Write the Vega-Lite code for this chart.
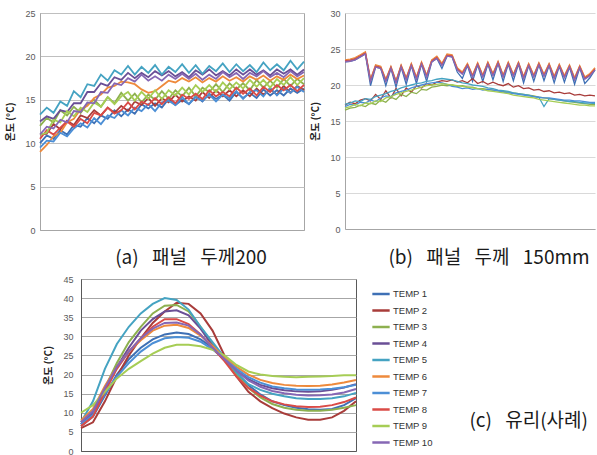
{
"$schema":"https://vega.github.io/schema/vega-lite/v6.json",
"background":"white",
"padding":{"left":5,"top":8,"right":0,"bottom":0},
"config":{"view":{"stroke":null},
"axis":{"ticks":false,"labelFont":"Liberation Sans","labelFontSize":9,"labelColor":"#595959","labelPadding":5,"titleFont":"Noto Sans CJK KR","titleFontSize":10,"titleFontWeight":"bold","titleColor":"#222222","titlePadding":9,"domainColor":"#A6A6A6","gridColor":"#C8C8C8"},
"title":{"font":"Noto Sans CJK KR","fontSize":19,"fontWeight":"normal","color":"#1a1a1a"}},
"datasets":{
"a":[
{"s":1,"x":0,"y":10.0},{"s":1,"x":1,"y":10.9},{"s":1,"x":2,"y":10.5},{"s":1,"x":3,"y":11.5},{"s":1,"x":4,"y":11.0},{"s":1,"x":5,"y":12.1},{"s":1,"x":6,"y":11.9},{"s":1,"x":7,"y":12.9},{"s":1,"x":8,"y":12.3},{"s":1,"x":9,"y":13.2},{"s":1,"x":10,"y":12.8},{"s":1,"x":11,"y":13.8},{"s":1,"x":12,"y":13.1},{"s":1,"x":13,"y":13.9},{"s":1,"x":14,"y":13.4},{"s":1,"x":15,"y":14.5},{"s":1,"x":16,"y":14.0},{"s":1,"x":17,"y":14.6},{"s":1,"x":18,"y":14.1},{"s":1,"x":19,"y":15.1},{"s":1,"x":20,"y":14.4},{"s":1,"x":21,"y":15.0},{"s":1,"x":22,"y":14.5},{"s":1,"x":23,"y":15.4},{"s":1,"x":24,"y":14.8},{"s":1,"x":25,"y":15.7},{"s":1,"x":26,"y":15.1},{"s":1,"x":27,"y":15.6},{"s":1,"x":28,"y":14.9},{"s":1,"x":29,"y":15.9},{"s":1,"x":30,"y":15.2},{"s":1,"x":31,"y":15.8},{"s":1,"x":32,"y":15.2},{"s":1,"x":33,"y":16.2},{"s":1,"x":34,"y":15.5},{"s":1,"x":35,"y":16.1},{"s":1,"x":36,"y":15.5},{"s":1,"x":37,"y":16.3},{"s":1,"x":38,"y":15.8},{"s":1,"x":39,"y":16.3},
{"s":2,"x":0,"y":11.0},{"s":2,"x":1,"y":11.1},{"s":2,"x":2,"y":12.2},{"s":2,"x":3,"y":11.6},{"s":2,"x":4,"y":12.6},{"s":2,"x":5,"y":12.1},{"s":2,"x":6,"y":13.2},{"s":2,"x":7,"y":12.9},{"s":2,"x":8,"y":13.8},{"s":2,"x":9,"y":13.2},{"s":2,"x":10,"y":14.1},{"s":2,"x":11,"y":13.5},{"s":2,"x":12,"y":14.3},{"s":2,"x":13,"y":13.7},{"s":2,"x":14,"y":14.8},{"s":2,"x":15,"y":14.4},{"s":2,"x":16,"y":15.2},{"s":2,"x":17,"y":14.3},{"s":2,"x":18,"y":15.2},{"s":2,"x":19,"y":14.7},{"s":2,"x":20,"y":15.6},{"s":2,"x":21,"y":14.8},{"s":2,"x":22,"y":15.4},{"s":2,"x":23,"y":14.9},{"s":2,"x":24,"y":15.9},{"s":2,"x":25,"y":15.2},{"s":2,"x":26,"y":16.1},{"s":2,"x":27,"y":15.4},{"s":2,"x":28,"y":16.1},{"s":2,"x":29,"y":15.4},{"s":2,"x":30,"y":16.1},{"s":2,"x":31,"y":15.4},{"s":2,"x":32,"y":16.3},{"s":2,"x":33,"y":15.6},{"s":2,"x":34,"y":16.2},{"s":2,"x":35,"y":15.6},{"s":2,"x":36,"y":16.6},{"s":2,"x":37,"y":15.8},{"s":2,"x":38,"y":16.6},{"s":2,"x":39,"y":16.1},
{"s":3,"x":0,"y":12.0},{"s":3,"x":1,"y":12.9},{"s":3,"x":2,"y":12.4},{"s":3,"x":3,"y":13.8},{"s":3,"x":4,"y":13.2},{"s":3,"x":5,"y":14.2},{"s":3,"x":6,"y":13.5},{"s":3,"x":7,"y":14.5},{"s":3,"x":8,"y":15.0},{"s":3,"x":9,"y":14.2},{"s":3,"x":10,"y":15.3},{"s":3,"x":11,"y":14.6},{"s":3,"x":12,"y":15.8},{"s":3,"x":13,"y":14.9},{"s":3,"x":14,"y":15.7},{"s":3,"x":15,"y":14.7},{"s":3,"x":16,"y":15.6},{"s":3,"x":17,"y":15.0},{"s":3,"x":18,"y":16.0},{"s":3,"x":19,"y":15.1},{"s":3,"x":20,"y":16.1},{"s":3,"x":21,"y":15.4},{"s":3,"x":22,"y":16.4},{"s":3,"x":23,"y":15.4},{"s":3,"x":24,"y":16.4},{"s":3,"x":25,"y":15.9},{"s":3,"x":26,"y":16.8},{"s":3,"x":27,"y":15.9},{"s":3,"x":28,"y":16.9},{"s":3,"x":29,"y":16.2},{"s":3,"x":30,"y":16.9},{"s":3,"x":31,"y":16.1},{"s":3,"x":32,"y":17.3},{"s":3,"x":33,"y":16.4},{"s":3,"x":34,"y":17.2},{"s":3,"x":35,"y":16.4},{"s":3,"x":36,"y":17.4},{"s":3,"x":37,"y":16.6},{"s":3,"x":38,"y":17.4},{"s":3,"x":39,"y":16.8},
{"s":4,"x":0,"y":12.5},{"s":4,"x":1,"y":13.1},{"s":4,"x":2,"y":12.8},{"s":4,"x":3,"y":13.8},{"s":4,"x":4,"y":13.6},{"s":4,"x":5,"y":14.6},{"s":4,"x":6,"y":14.6},{"s":4,"x":7,"y":15.9},{"s":4,"x":8,"y":15.9},{"s":4,"x":9,"y":16.9},{"s":4,"x":10,"y":16.6},{"s":4,"x":11,"y":17.6},{"s":4,"x":12,"y":17.3},{"s":4,"x":13,"y":18.1},{"s":4,"x":14,"y":17.5},{"s":4,"x":15,"y":18.1},{"s":4,"x":16,"y":17.6},{"s":4,"x":17,"y":18.3},{"s":4,"x":18,"y":17.8},{"s":4,"x":19,"y":18.3},{"s":4,"x":20,"y":17.7},{"s":4,"x":21,"y":18.2},{"s":4,"x":22,"y":17.6},{"s":4,"x":23,"y":18.4},{"s":4,"x":24,"y":17.9},{"s":4,"x":25,"y":18.5},{"s":4,"x":26,"y":17.8},{"s":4,"x":27,"y":18.3},{"s":4,"x":28,"y":17.8},{"s":4,"x":29,"y":18.5},{"s":4,"x":30,"y":17.9},{"s":4,"x":31,"y":18.5},{"s":4,"x":32,"y":17.9},{"s":4,"x":33,"y":18.4},{"s":4,"x":34,"y":17.8},{"s":4,"x":35,"y":18.5},{"s":4,"x":36,"y":18.0},{"s":4,"x":37,"y":18.5},{"s":4,"x":38,"y":17.9},{"s":4,"x":39,"y":18.5},
{"s":5,"x":0,"y":13.3},{"s":5,"x":1,"y":14.1},{"s":5,"x":2,"y":13.5},{"s":5,"x":3,"y":14.8},{"s":5,"x":4,"y":14.3},{"s":5,"x":5,"y":16.0},{"s":5,"x":6,"y":15.3},{"s":5,"x":7,"y":16.8},{"s":5,"x":8,"y":16.6},{"s":5,"x":9,"y":17.9},{"s":5,"x":10,"y":17.2},{"s":5,"x":11,"y":18.4},{"s":5,"x":12,"y":17.9},{"s":5,"x":13,"y":18.9},{"s":5,"x":14,"y":17.9},{"s":5,"x":15,"y":18.8},{"s":5,"x":16,"y":18.1},{"s":5,"x":17,"y":19.0},{"s":5,"x":18,"y":17.9},{"s":5,"x":19,"y":18.8},{"s":5,"x":20,"y":18.2},{"s":5,"x":21,"y":19.1},{"s":5,"x":22,"y":18.1},{"s":5,"x":23,"y":19.0},{"s":5,"x":24,"y":18.0},{"s":5,"x":25,"y":18.9},{"s":5,"x":26,"y":18.3},{"s":5,"x":27,"y":19.2},{"s":5,"x":28,"y":18.2},{"s":5,"x":29,"y":19.1},{"s":5,"x":30,"y":18.3},{"s":5,"x":31,"y":19.0},{"s":5,"x":32,"y":18.2},{"s":5,"x":33,"y":19.3},{"s":5,"x":34,"y":18.4},{"s":5,"x":35,"y":19.1},{"s":5,"x":36,"y":18.4},{"s":5,"x":37,"y":19.5},{"s":5,"x":38,"y":18.5},{"s":5,"x":39,"y":19.4},
{"s":6,"x":0,"y":9.0},{"s":6,"x":1,"y":9.8},{"s":6,"x":2,"y":10.8},{"s":6,"x":3,"y":11.2},{"s":6,"x":4,"y":12.4},{"s":6,"x":5,"y":12.8},{"s":6,"x":6,"y":13.9},{"s":6,"x":7,"y":14.3},{"s":6,"x":8,"y":15.2},{"s":6,"x":9,"y":15.6},{"s":6,"x":10,"y":16.4},{"s":6,"x":11,"y":16.6},{"s":6,"x":12,"y":17.1},{"s":6,"x":13,"y":17.0},{"s":6,"x":14,"y":16.8},{"s":6,"x":15,"y":16.2},{"s":6,"x":16,"y":15.8},{"s":6,"x":17,"y":16.0},{"s":6,"x":18,"y":16.6},{"s":6,"x":19,"y":17.2},{"s":6,"x":20,"y":17.0},{"s":6,"x":21,"y":17.5},{"s":6,"x":22,"y":17.1},{"s":6,"x":23,"y":17.6},{"s":6,"x":24,"y":17.0},{"s":6,"x":25,"y":17.5},{"s":6,"x":26,"y":17.1},{"s":6,"x":27,"y":17.7},{"s":6,"x":28,"y":17.2},{"s":6,"x":29,"y":17.6},{"s":6,"x":30,"y":17.1},{"s":6,"x":31,"y":17.7},{"s":6,"x":32,"y":17.3},{"s":6,"x":33,"y":17.8},{"s":6,"x":34,"y":17.2},{"s":6,"x":35,"y":17.7},{"s":6,"x":36,"y":17.3},{"s":6,"x":37,"y":17.9},{"s":6,"x":38,"y":17.4},{"s":6,"x":39,"y":17.8},
{"s":7,"x":0,"y":9.5},{"s":7,"x":1,"y":10.3},{"s":7,"x":2,"y":10.2},{"s":7,"x":3,"y":11.2},{"s":7,"x":4,"y":10.8},{"s":7,"x":5,"y":11.7},{"s":7,"x":6,"y":12.3},{"s":7,"x":7,"y":11.8},{"s":7,"x":8,"y":12.9},{"s":7,"x":9,"y":12.2},{"s":7,"x":10,"y":13.2},{"s":7,"x":11,"y":12.9},{"s":7,"x":12,"y":13.8},{"s":7,"x":13,"y":13.2},{"s":7,"x":14,"y":14.1},{"s":7,"x":15,"y":13.7},{"s":7,"x":16,"y":14.5},{"s":7,"x":17,"y":13.7},{"s":7,"x":18,"y":14.7},{"s":7,"x":19,"y":14.9},{"s":7,"x":20,"y":14.4},{"s":7,"x":21,"y":15.3},{"s":7,"x":22,"y":14.5},{"s":7,"x":23,"y":15.3},{"s":7,"x":24,"y":14.9},{"s":7,"x":25,"y":15.6},{"s":7,"x":26,"y":14.8},{"s":7,"x":27,"y":15.6},{"s":7,"x":28,"y":15.2},{"s":7,"x":29,"y":16.0},{"s":7,"x":30,"y":15.1},{"s":7,"x":31,"y":15.9},{"s":7,"x":32,"y":16.1},{"s":7,"x":33,"y":15.4},{"s":7,"x":34,"y":16.4},{"s":7,"x":35,"y":15.5},{"s":7,"x":36,"y":16.3},{"s":7,"x":37,"y":15.8},{"s":7,"x":38,"y":16.5},{"s":7,"x":39,"y":15.9},
{"s":8,"x":0,"y":10.5},{"s":8,"x":1,"y":11.5},{"s":8,"x":2,"y":11.0},{"s":8,"x":3,"y":11.8},{"s":8,"x":4,"y":12.5},{"s":8,"x":5,"y":11.9},{"s":8,"x":6,"y":12.8},{"s":8,"x":7,"y":12.3},{"s":8,"x":8,"y":13.5},{"s":8,"x":9,"y":13.2},{"s":8,"x":10,"y":14.1},{"s":8,"x":11,"y":13.4},{"s":8,"x":12,"y":13.8},{"s":8,"x":13,"y":14.7},{"s":8,"x":14,"y":13.9},{"s":8,"x":15,"y":14.8},{"s":8,"x":16,"y":14.4},{"s":8,"x":17,"y":15.2},{"s":8,"x":18,"y":14.5},{"s":8,"x":19,"y":15.3},{"s":8,"x":20,"y":14.6},{"s":8,"x":21,"y":15.6},{"s":8,"x":22,"y":15.1},{"s":8,"x":23,"y":15.7},{"s":8,"x":24,"y":15.1},{"s":8,"x":25,"y":16.1},{"s":8,"x":26,"y":15.4},{"s":8,"x":27,"y":15.9},{"s":8,"x":28,"y":15.4},{"s":8,"x":29,"y":16.4},{"s":8,"x":30,"y":15.7},{"s":8,"x":31,"y":16.3},{"s":8,"x":32,"y":15.5},{"s":8,"x":33,"y":16.5},{"s":8,"x":34,"y":15.9},{"s":8,"x":35,"y":16.7},{"s":8,"x":36,"y":16.1},{"s":8,"x":37,"y":16.7},{"s":8,"x":38,"y":16.0},{"s":8,"x":39,"y":16.7},
{"s":9,"x":0,"y":11.0},{"s":9,"x":1,"y":11.2},{"s":9,"x":2,"y":12.7},{"s":9,"x":3,"y":12.4},{"s":9,"x":4,"y":13.7},{"s":9,"x":5,"y":13.1},{"s":9,"x":6,"y":14.1},{"s":9,"x":7,"y":13.6},{"s":9,"x":8,"y":14.7},{"s":9,"x":9,"y":14.2},{"s":9,"x":10,"y":15.3},{"s":9,"x":11,"y":14.5},{"s":9,"x":12,"y":15.4},{"s":9,"x":13,"y":15.9},{"s":9,"x":14,"y":14.9},{"s":9,"x":15,"y":15.9},{"s":9,"x":16,"y":15.1},{"s":9,"x":17,"y":16.1},{"s":9,"x":18,"y":15.1},{"s":9,"x":19,"y":16.1},{"s":9,"x":20,"y":15.5},{"s":9,"x":21,"y":16.4},{"s":9,"x":22,"y":15.6},{"s":9,"x":23,"y":16.7},{"s":9,"x":24,"y":15.9},{"s":9,"x":25,"y":16.7},{"s":9,"x":26,"y":15.9},{"s":9,"x":27,"y":17.0},{"s":9,"x":28,"y":16.2},{"s":9,"x":29,"y":17.0},{"s":9,"x":30,"y":16.3},{"s":9,"x":31,"y":17.3},{"s":9,"x":32,"y":16.5},{"s":9,"x":33,"y":17.3},{"s":9,"x":34,"y":16.4},{"s":9,"x":35,"y":17.4},{"s":9,"x":36,"y":16.7},{"s":9,"x":37,"y":17.6},{"s":9,"x":38,"y":16.7},{"s":9,"x":39,"y":17.5},
{"s":10,"x":0,"y":11.0},{"s":10,"x":1,"y":11.9},{"s":10,"x":2,"y":11.7},{"s":10,"x":3,"y":12.7},{"s":10,"x":4,"y":12.4},{"s":10,"x":5,"y":13.7},{"s":10,"x":6,"y":13.6},{"s":10,"x":7,"y":14.7},{"s":10,"x":8,"y":14.6},{"s":10,"x":9,"y":15.9},{"s":10,"x":10,"y":15.8},{"s":10,"x":11,"y":16.9},{"s":10,"x":12,"y":16.7},{"s":10,"x":13,"y":17.5},{"s":10,"x":14,"y":17.1},{"s":10,"x":15,"y":17.9},{"s":10,"x":16,"y":17.2},{"s":10,"x":17,"y":17.7},{"s":10,"x":18,"y":17.2},{"s":10,"x":19,"y":17.9},{"s":10,"x":20,"y":17.4},{"s":10,"x":21,"y":18.0},{"s":10,"x":22,"y":17.4},{"s":10,"x":23,"y":18.0},{"s":10,"x":24,"y":17.3},{"s":10,"x":25,"y":17.9},{"s":10,"x":26,"y":17.4},{"s":10,"x":27,"y":18.2},{"s":10,"x":28,"y":17.6},{"s":10,"x":29,"y":18.1},{"s":10,"x":30,"y":17.4},{"s":10,"x":31,"y":18.1},{"s":10,"x":32,"y":17.7},{"s":10,"x":33,"y":18.3},{"s":10,"x":34,"y":17.6},{"s":10,"x":35,"y":18.1},{"s":10,"x":36,"y":17.6},{"s":10,"x":37,"y":18.3},{"s":10,"x":38,"y":17.7},{"s":10,"x":39,"y":18.2}
],
"b":[
{"s":1,"x":0,"y":23.2},{"s":1,"x":1,"y":23.3},{"s":1,"x":2,"y":23.5},{"s":1,"x":3,"y":23.9},{"s":1,"x":4,"y":24.3},{"s":1,"x":5,"y":19.9},{"s":1,"x":6,"y":22.5},{"s":1,"x":7,"y":22.3},{"s":1,"x":8,"y":19.9},{"s":1,"x":9,"y":22.3},{"s":1,"x":10,"y":19.7},{"s":1,"x":11,"y":22.5},{"s":1,"x":12,"y":20.1},{"s":1,"x":13,"y":22.7},{"s":1,"x":14,"y":20.2},{"s":1,"x":15,"y":22.9},{"s":1,"x":16,"y":20.5},{"s":1,"x":17,"y":23.2},{"s":1,"x":18,"y":23.7},{"s":1,"x":19,"y":22.3},{"s":1,"x":20,"y":24.0},{"s":1,"x":21,"y":23.9},{"s":1,"x":22,"y":21.8},{"s":1,"x":23,"y":20.9},{"s":1,"x":24,"y":22.7},{"s":1,"x":25,"y":20.5},{"s":1,"x":26,"y":22.8},{"s":1,"x":27,"y":20.5},{"s":1,"x":28,"y":22.9},{"s":1,"x":29,"y":20.7},{"s":1,"x":30,"y":23.0},{"s":1,"x":31,"y":20.5},{"s":1,"x":32,"y":22.9},{"s":1,"x":33,"y":20.6},{"s":1,"x":34,"y":22.9},{"s":1,"x":35,"y":20.3},{"s":1,"x":36,"y":22.7},{"s":1,"x":37,"y":20.5},{"s":1,"x":38,"y":22.8},{"s":1,"x":39,"y":20.6},{"s":1,"x":40,"y":22.7},{"s":1,"x":41,"y":20.3},{"s":1,"x":42,"y":22.6},{"s":1,"x":43,"y":20.4},{"s":1,"x":44,"y":22.5},{"s":1,"x":45,"y":20.1},{"s":1,"x":46,"y":22.4},{"s":1,"x":47,"y":20.2},{"s":1,"x":48,"y":21.0},{"s":1,"x":49,"y":22.1},
{"s":2,"x":0,"y":17.2},{"s":2,"x":1,"y":17.6},{"s":2,"x":2,"y":17.4},{"s":2,"x":3,"y":17.9},{"s":2,"x":4,"y":18.1},{"s":2,"x":5,"y":17.8},{"s":2,"x":6,"y":18.7},{"s":2,"x":7,"y":18.0},{"s":2,"x":8,"y":19.2},{"s":2,"x":9,"y":18.2},{"s":2,"x":10,"y":19.5},{"s":2,"x":11,"y":18.5},{"s":2,"x":12,"y":19.6},{"s":2,"x":13,"y":19.0},{"s":2,"x":14,"y":19.9},{"s":2,"x":15,"y":19.6},{"s":2,"x":16,"y":20.2},{"s":2,"x":17,"y":20.0},{"s":2,"x":18,"y":20.4},{"s":2,"x":19,"y":20.6},{"s":2,"x":20,"y":20.5},{"s":2,"x":21,"y":20.7},{"s":2,"x":22,"y":20.4},{"s":2,"x":23,"y":20.6},{"s":2,"x":24,"y":20.3},{"s":2,"x":25,"y":20.9},{"s":2,"x":26,"y":20.2},{"s":2,"x":27,"y":20.5},{"s":2,"x":28,"y":20.1},{"s":2,"x":29,"y":20.4},{"s":2,"x":30,"y":20.1},{"s":2,"x":31,"y":19.9},{"s":2,"x":32,"y":20.2},{"s":2,"x":33,"y":19.7},{"s":2,"x":34,"y":19.9},{"s":2,"x":35,"y":19.5},{"s":2,"x":36,"y":19.6},{"s":2,"x":37,"y":19.3},{"s":2,"x":38,"y":19.4},{"s":2,"x":39,"y":19.1},{"s":2,"x":40,"y":19.2},{"s":2,"x":41,"y":18.9},{"s":2,"x":42,"y":19.0},{"s":2,"x":43,"y":18.8},{"s":2,"x":44,"y":18.9},{"s":2,"x":45,"y":18.6},{"s":2,"x":46,"y":18.7},{"s":2,"x":47,"y":18.5},{"s":2,"x":48,"y":18.6},{"s":2,"x":49,"y":18.5},
{"s":3,"x":0,"y":16.5},{"s":3,"x":1,"y":16.8},{"s":3,"x":2,"y":16.9},{"s":3,"x":3,"y":17.2},{"s":3,"x":4,"y":17.0},{"s":3,"x":5,"y":17.5},{"s":3,"x":6,"y":17.3},{"s":3,"x":7,"y":17.9},{"s":3,"x":8,"y":17.6},{"s":3,"x":9,"y":18.3},{"s":3,"x":10,"y":18.0},{"s":3,"x":11,"y":18.7},{"s":3,"x":12,"y":18.4},{"s":3,"x":13,"y":19.0},{"s":3,"x":14,"y":18.8},{"s":3,"x":15,"y":19.4},{"s":3,"x":16,"y":19.3},{"s":3,"x":17,"y":19.7},{"s":3,"x":18,"y":19.8},{"s":3,"x":19,"y":20.0},{"s":3,"x":20,"y":19.9},{"s":3,"x":21,"y":20.0},{"s":3,"x":22,"y":19.8},{"s":3,"x":23,"y":19.9},{"s":3,"x":24,"y":19.7},{"s":3,"x":25,"y":19.7},{"s":3,"x":26,"y":19.5},{"s":3,"x":27,"y":19.5},{"s":3,"x":28,"y":19.4},{"s":3,"x":29,"y":19.3},{"s":3,"x":30,"y":19.2},{"s":3,"x":31,"y":19.1},{"s":3,"x":32,"y":19.0},{"s":3,"x":33,"y":18.9},{"s":3,"x":34,"y":18.8},{"s":3,"x":35,"y":18.7},{"s":3,"x":36,"y":18.6},{"s":3,"x":37,"y":18.5},{"s":3,"x":38,"y":18.3},{"s":3,"x":39,"y":18.2},{"s":3,"x":40,"y":18.1},{"s":3,"x":41,"y":18.0},{"s":3,"x":42,"y":17.9},{"s":3,"x":43,"y":17.8},{"s":3,"x":44,"y":17.7},{"s":3,"x":45,"y":17.6},{"s":3,"x":46,"y":17.5},{"s":3,"x":47,"y":17.4},{"s":3,"x":48,"y":17.3},{"s":3,"x":49,"y":17.3},
{"s":4,"x":0,"y":23.4},{"s":4,"x":1,"y":23.5},{"s":4,"x":2,"y":23.7},{"s":4,"x":3,"y":24.1},{"s":4,"x":4,"y":24.5},{"s":4,"x":5,"y":20.7},{"s":4,"x":6,"y":22.7},{"s":4,"x":7,"y":22.5},{"s":4,"x":8,"y":20.7},{"s":4,"x":9,"y":22.5},{"s":4,"x":10,"y":20.5},{"s":4,"x":11,"y":22.7},{"s":4,"x":12,"y":20.9},{"s":4,"x":13,"y":22.9},{"s":4,"x":14,"y":21.0},{"s":4,"x":15,"y":23.1},{"s":4,"x":16,"y":21.3},{"s":4,"x":17,"y":23.4},{"s":4,"x":18,"y":23.9},{"s":4,"x":19,"y":22.9},{"s":4,"x":20,"y":24.2},{"s":4,"x":21,"y":24.1},{"s":4,"x":22,"y":22.3},{"s":4,"x":23,"y":21.7},{"s":4,"x":24,"y":22.9},{"s":4,"x":25,"y":21.3},{"s":4,"x":26,"y":23.0},{"s":4,"x":27,"y":21.3},{"s":4,"x":28,"y":23.1},{"s":4,"x":29,"y":21.5},{"s":4,"x":30,"y":23.2},{"s":4,"x":31,"y":21.3},{"s":4,"x":32,"y":23.1},{"s":4,"x":33,"y":21.4},{"s":4,"x":34,"y":23.1},{"s":4,"x":35,"y":21.1},{"s":4,"x":36,"y":22.9},{"s":4,"x":37,"y":21.3},{"s":4,"x":38,"y":23.0},{"s":4,"x":39,"y":21.4},{"s":4,"x":40,"y":22.9},{"s":4,"x":41,"y":21.1},{"s":4,"x":42,"y":22.8},{"s":4,"x":43,"y":21.2},{"s":4,"x":44,"y":22.7},{"s":4,"x":45,"y":20.9},{"s":4,"x":46,"y":22.6},{"s":4,"x":47,"y":21.0},{"s":4,"x":48,"y":21.5},{"s":4,"x":49,"y":22.3},
{"s":5,"x":0,"y":17.3},{"s":5,"x":1,"y":17.5},{"s":5,"x":2,"y":17.8},{"s":5,"x":3,"y":17.7},{"s":5,"x":4,"y":18.1},{"s":5,"x":5,"y":18.0},{"s":5,"x":6,"y":18.4},{"s":5,"x":7,"y":18.6},{"s":5,"x":8,"y":18.8},{"s":5,"x":9,"y":19.1},{"s":5,"x":10,"y":19.3},{"s":5,"x":11,"y":19.6},{"s":5,"x":12,"y":19.8},{"s":5,"x":13,"y":20.0},{"s":5,"x":14,"y":20.2},{"s":5,"x":15,"y":20.3},{"s":5,"x":16,"y":20.5},{"s":5,"x":17,"y":20.6},{"s":5,"x":18,"y":20.8},{"s":5,"x":19,"y":20.9},{"s":5,"x":20,"y":20.8},{"s":5,"x":21,"y":20.7},{"s":5,"x":22,"y":20.5},{"s":5,"x":23,"y":20.3},{"s":5,"x":24,"y":20.2},{"s":5,"x":25,"y":20.0},{"s":5,"x":26,"y":19.9},{"s":5,"x":27,"y":19.8},{"s":5,"x":28,"y":19.6},{"s":5,"x":29,"y":19.5},{"s":5,"x":30,"y":19.3},{"s":5,"x":31,"y":19.2},{"s":5,"x":32,"y":19.1},{"s":5,"x":33,"y":18.9},{"s":5,"x":34,"y":18.8},{"s":5,"x":35,"y":18.7},{"s":5,"x":36,"y":18.6},{"s":5,"x":37,"y":18.4},{"s":5,"x":38,"y":18.3},{"s":5,"x":39,"y":17.0},{"s":5,"x":40,"y":18.1},{"s":5,"x":41,"y":18.0},{"s":5,"x":42,"y":17.9},{"s":5,"x":43,"y":17.8},{"s":5,"x":44,"y":17.7},{"s":5,"x":45,"y":17.7},{"s":5,"x":46,"y":17.6},{"s":5,"x":47,"y":17.5},{"s":5,"x":48,"y":17.5},{"s":5,"x":49,"y":17.4},
{"s":6,"x":0,"y":23.5},{"s":6,"x":1,"y":23.6},{"s":6,"x":2,"y":23.8},{"s":6,"x":3,"y":24.2},{"s":6,"x":4,"y":24.6},{"s":6,"x":5,"y":20.8},{"s":6,"x":6,"y":22.8},{"s":6,"x":7,"y":22.6},{"s":6,"x":8,"y":20.8},{"s":6,"x":9,"y":22.6},{"s":6,"x":10,"y":20.6},{"s":6,"x":11,"y":22.8},{"s":6,"x":12,"y":21.0},{"s":6,"x":13,"y":23.0},{"s":6,"x":14,"y":21.1},{"s":6,"x":15,"y":23.2},{"s":6,"x":16,"y":21.4},{"s":6,"x":17,"y":23.5},{"s":6,"x":18,"y":24.0},{"s":6,"x":19,"y":23.0},{"s":6,"x":20,"y":24.3},{"s":6,"x":21,"y":24.2},{"s":6,"x":22,"y":22.4},{"s":6,"x":23,"y":21.8},{"s":6,"x":24,"y":23.0},{"s":6,"x":25,"y":21.4},{"s":6,"x":26,"y":23.1},{"s":6,"x":27,"y":21.4},{"s":6,"x":28,"y":23.2},{"s":6,"x":29,"y":21.6},{"s":6,"x":30,"y":23.3},{"s":6,"x":31,"y":21.4},{"s":6,"x":32,"y":23.2},{"s":6,"x":33,"y":21.5},{"s":6,"x":34,"y":23.2},{"s":6,"x":35,"y":21.2},{"s":6,"x":36,"y":23.0},{"s":6,"x":37,"y":21.4},{"s":6,"x":38,"y":23.1},{"s":6,"x":39,"y":21.5},{"s":6,"x":40,"y":23.0},{"s":6,"x":41,"y":21.2},{"s":6,"x":42,"y":22.9},{"s":6,"x":43,"y":21.3},{"s":6,"x":44,"y":22.8},{"s":6,"x":45,"y":21.0},{"s":6,"x":46,"y":22.7},{"s":6,"x":47,"y":21.1},{"s":6,"x":48,"y":21.6},{"s":6,"x":49,"y":22.4},
{"s":7,"x":0,"y":17.0},{"s":7,"x":1,"y":17.3},{"s":7,"x":2,"y":17.2},{"s":7,"x":3,"y":17.6},{"s":7,"x":4,"y":17.5},{"s":7,"x":5,"y":17.9},{"s":7,"x":6,"y":17.7},{"s":7,"x":7,"y":18.2},{"s":7,"x":8,"y":18.5},{"s":7,"x":9,"y":18.4},{"s":7,"x":10,"y":18.9},{"s":7,"x":11,"y":19.1},{"s":7,"x":12,"y":19.3},{"s":7,"x":13,"y":19.6},{"s":7,"x":14,"y":19.8},{"s":7,"x":15,"y":20.0},{"s":7,"x":16,"y":20.2},{"s":7,"x":17,"y":20.3},{"s":7,"x":18,"y":20.4},{"s":7,"x":19,"y":20.3},{"s":7,"x":20,"y":20.1},{"s":7,"x":21,"y":19.8},{"s":7,"x":22,"y":19.7},{"s":7,"x":23,"y":19.5},{"s":7,"x":24,"y":19.6},{"s":7,"x":25,"y":19.4},{"s":7,"x":26,"y":19.5},{"s":7,"x":27,"y":19.3},{"s":7,"x":28,"y":19.4},{"s":7,"x":29,"y":19.3},{"s":7,"x":30,"y":19.2},{"s":7,"x":31,"y":19.0},{"s":7,"x":32,"y":18.9},{"s":7,"x":33,"y":18.8},{"s":7,"x":34,"y":18.7},{"s":7,"x":35,"y":18.6},{"s":7,"x":36,"y":18.5},{"s":7,"x":37,"y":18.4},{"s":7,"x":38,"y":18.3},{"s":7,"x":39,"y":18.2},{"s":7,"x":40,"y":18.2},{"s":7,"x":41,"y":18.1},{"s":7,"x":42,"y":18.0},{"s":7,"x":43,"y":17.9},{"s":7,"x":44,"y":17.9},{"s":7,"x":45,"y":17.8},{"s":7,"x":46,"y":17.8},{"s":7,"x":47,"y":17.7},{"s":7,"x":48,"y":17.6},{"s":7,"x":49,"y":17.6},
{"s":8,"x":0,"y":23.3},{"s":8,"x":1,"y":23.4},{"s":8,"x":2,"y":23.6},{"s":8,"x":3,"y":24.0},{"s":8,"x":4,"y":24.4},{"s":8,"x":5,"y":20.6},{"s":8,"x":6,"y":22.6},{"s":8,"x":7,"y":22.4},{"s":8,"x":8,"y":20.6},{"s":8,"x":9,"y":22.4},{"s":8,"x":10,"y":20.4},{"s":8,"x":11,"y":22.6},{"s":8,"x":12,"y":20.8},{"s":8,"x":13,"y":22.8},{"s":8,"x":14,"y":20.9},{"s":8,"x":15,"y":23.0},{"s":8,"x":16,"y":21.2},{"s":8,"x":17,"y":23.3},{"s":8,"x":18,"y":23.8},{"s":8,"x":19,"y":22.8},{"s":8,"x":20,"y":24.1},{"s":8,"x":21,"y":24.0},{"s":8,"x":22,"y":22.2},{"s":8,"x":23,"y":21.6},{"s":8,"x":24,"y":22.8},{"s":8,"x":25,"y":21.2},{"s":8,"x":26,"y":22.9},{"s":8,"x":27,"y":21.2},{"s":8,"x":28,"y":23.0},{"s":8,"x":29,"y":21.4},{"s":8,"x":30,"y":23.1},{"s":8,"x":31,"y":21.2},{"s":8,"x":32,"y":23.0},{"s":8,"x":33,"y":21.3},{"s":8,"x":34,"y":23.0},{"s":8,"x":35,"y":21.0},{"s":8,"x":36,"y":22.8},{"s":8,"x":37,"y":21.2},{"s":8,"x":38,"y":22.9},{"s":8,"x":39,"y":21.3},{"s":8,"x":40,"y":22.8},{"s":8,"x":41,"y":21.0},{"s":8,"x":42,"y":22.7},{"s":8,"x":43,"y":21.1},{"s":8,"x":44,"y":22.6},{"s":8,"x":45,"y":20.8},{"s":8,"x":46,"y":22.5},{"s":8,"x":47,"y":20.9},{"s":8,"x":48,"y":21.4},{"s":8,"x":49,"y":22.2},
{"s":9,"x":0,"y":16.8},{"s":9,"x":1,"y":17.0},{"s":9,"x":2,"y":17.3},{"s":9,"x":3,"y":17.1},{"s":9,"x":4,"y":17.5},{"s":9,"x":5,"y":17.4},{"s":9,"x":6,"y":17.8},{"s":9,"x":7,"y":17.7},{"s":9,"x":8,"y":18.2},{"s":9,"x":9,"y":18.4},{"s":9,"x":10,"y":18.7},{"s":9,"x":11,"y":18.9},{"s":9,"x":12,"y":19.1},{"s":9,"x":13,"y":19.3},{"s":9,"x":14,"y":19.5},{"s":9,"x":15,"y":19.7},{"s":9,"x":16,"y":19.9},{"s":9,"x":17,"y":20.0},{"s":9,"x":18,"y":20.1},{"s":9,"x":19,"y":20.2},{"s":9,"x":20,"y":20.1},{"s":9,"x":21,"y":20.0},{"s":9,"x":22,"y":19.9},{"s":9,"x":23,"y":19.8},{"s":9,"x":24,"y":19.7},{"s":9,"x":25,"y":19.6},{"s":9,"x":26,"y":19.5},{"s":9,"x":27,"y":19.4},{"s":9,"x":28,"y":19.2},{"s":9,"x":29,"y":19.1},{"s":9,"x":30,"y":19.0},{"s":9,"x":31,"y":18.9},{"s":9,"x":32,"y":18.8},{"s":9,"x":33,"y":18.6},{"s":9,"x":34,"y":18.5},{"s":9,"x":35,"y":18.4},{"s":9,"x":36,"y":18.3},{"s":9,"x":37,"y":18.2},{"s":9,"x":38,"y":18.0},{"s":9,"x":39,"y":17.9},{"s":9,"x":40,"y":17.8},{"s":9,"x":41,"y":17.7},{"s":9,"x":42,"y":17.6},{"s":9,"x":43,"y":17.5},{"s":9,"x":44,"y":17.4},{"s":9,"x":45,"y":17.3},{"s":9,"x":46,"y":17.2},{"s":9,"x":47,"y":17.2},{"s":9,"x":48,"y":17.1},{"s":9,"x":49,"y":17.1},
{"s":10,"x":0,"y":23.2},{"s":10,"x":1,"y":23.3},{"s":10,"x":2,"y":23.5},{"s":10,"x":3,"y":23.9},{"s":10,"x":4,"y":24.3},{"s":10,"x":5,"y":20.5},{"s":10,"x":6,"y":22.5},{"s":10,"x":7,"y":22.3},{"s":10,"x":8,"y":20.5},{"s":10,"x":9,"y":22.3},{"s":10,"x":10,"y":20.3},{"s":10,"x":11,"y":22.5},{"s":10,"x":12,"y":20.7},{"s":10,"x":13,"y":22.7},{"s":10,"x":14,"y":20.8},{"s":10,"x":15,"y":22.9},{"s":10,"x":16,"y":21.1},{"s":10,"x":17,"y":23.2},{"s":10,"x":18,"y":23.7},{"s":10,"x":19,"y":22.7},{"s":10,"x":20,"y":24.0},{"s":10,"x":21,"y":23.9},{"s":10,"x":22,"y":22.1},{"s":10,"x":23,"y":21.5},{"s":10,"x":24,"y":22.7},{"s":10,"x":25,"y":21.1},{"s":10,"x":26,"y":22.8},{"s":10,"x":27,"y":21.1},{"s":10,"x":28,"y":22.9},{"s":10,"x":29,"y":21.3},{"s":10,"x":30,"y":23.0},{"s":10,"x":31,"y":21.1},{"s":10,"x":32,"y":22.9},{"s":10,"x":33,"y":21.2},{"s":10,"x":34,"y":22.9},{"s":10,"x":35,"y":20.9},{"s":10,"x":36,"y":22.7},{"s":10,"x":37,"y":21.1},{"s":10,"x":38,"y":22.8},{"s":10,"x":39,"y":21.2},{"s":10,"x":40,"y":22.7},{"s":10,"x":41,"y":20.9},{"s":10,"x":42,"y":22.6},{"s":10,"x":43,"y":21.0},{"s":10,"x":44,"y":22.5},{"s":10,"x":45,"y":20.7},{"s":10,"x":46,"y":22.4},{"s":10,"x":47,"y":20.8},{"s":10,"x":48,"y":21.3},{"s":10,"x":49,"y":22.1}
],
"c":[
{"s":1,"x":0,"y":6.5},{"s":1,"x":1,"y":9},{"s":1,"x":2,"y":14.5},{"s":1,"x":3,"y":20},{"s":1,"x":4,"y":24},{"s":1,"x":5,"y":27},{"s":1,"x":6,"y":29.2},{"s":1,"x":7,"y":30.5},{"s":1,"x":8,"y":31},{"s":1,"x":9,"y":30.6},{"s":1,"x":10,"y":29.2},{"s":1,"x":11,"y":27},{"s":1,"x":12,"y":24},{"s":1,"x":13,"y":20.5},{"s":1,"x":14,"y":17.2},{"s":1,"x":15,"y":14.8},{"s":1,"x":16,"y":13},{"s":1,"x":17,"y":12},{"s":1,"x":18,"y":11.3},{"s":1,"x":19,"y":10.9},{"s":1,"x":20,"y":10.8},{"s":1,"x":21,"y":11},{"s":1,"x":22,"y":12},{"s":1,"x":23,"y":13.8},
{"s":2,"x":0,"y":6},{"s":2,"x":1,"y":7.5},{"s":2,"x":2,"y":13},{"s":2,"x":3,"y":19.5},{"s":2,"x":4,"y":25},{"s":2,"x":5,"y":29.5},{"s":2,"x":6,"y":33.5},{"s":2,"x":7,"y":36.5},{"s":2,"x":8,"y":38.8},{"s":2,"x":9,"y":38.5},{"s":2,"x":10,"y":36},{"s":2,"x":11,"y":31.5},{"s":2,"x":12,"y":25},{"s":2,"x":13,"y":19.5},{"s":2,"x":14,"y":15.5},{"s":2,"x":15,"y":13},{"s":2,"x":16,"y":11.2},{"s":2,"x":17,"y":9.8},{"s":2,"x":18,"y":8.8},{"s":2,"x":19,"y":8.2},{"s":2,"x":20,"y":8.2},{"s":2,"x":21,"y":8.8},{"s":2,"x":22,"y":10.5},{"s":2,"x":23,"y":13},
{"s":3,"x":0,"y":7},{"s":3,"x":1,"y":10},{"s":3,"x":2,"y":16.5},{"s":3,"x":3,"y":23},{"s":3,"x":4,"y":28.5},{"s":3,"x":5,"y":32.5},{"s":3,"x":6,"y":36},{"s":3,"x":7,"y":38},{"s":3,"x":8,"y":38.2},{"s":3,"x":9,"y":36.5},{"s":3,"x":10,"y":32.5},{"s":3,"x":11,"y":28},{"s":3,"x":12,"y":24},{"s":3,"x":13,"y":20},{"s":3,"x":14,"y":16.5},{"s":3,"x":15,"y":14},{"s":3,"x":16,"y":12.3},{"s":3,"x":17,"y":11.3},{"s":3,"x":18,"y":10.8},{"s":3,"x":19,"y":10.5},{"s":3,"x":20,"y":10.5},{"s":3,"x":21,"y":10.8},{"s":3,"x":22,"y":11.3},{"s":3,"x":23,"y":12},
{"s":4,"x":0,"y":7},{"s":4,"x":1,"y":10},{"s":4,"x":2,"y":16},{"s":4,"x":3,"y":22},{"s":4,"x":4,"y":27},{"s":4,"x":5,"y":31.5},{"s":4,"x":6,"y":34.5},{"s":4,"x":7,"y":36.5},{"s":4,"x":8,"y":36.8},{"s":4,"x":9,"y":35.5},{"s":4,"x":10,"y":32},{"s":4,"x":11,"y":27.5},{"s":4,"x":12,"y":24},{"s":4,"x":13,"y":21},{"s":4,"x":14,"y":18.8},{"s":4,"x":15,"y":17.3},{"s":4,"x":16,"y":16.4},{"s":4,"x":17,"y":15.9},{"s":4,"x":18,"y":15.6},{"s":4,"x":19,"y":15.5},{"s":4,"x":20,"y":15.6},{"s":4,"x":21,"y":16},{"s":4,"x":22,"y":16.6},{"s":4,"x":23,"y":17.5},
{"s":5,"x":0,"y":7.5},{"s":5,"x":1,"y":13},{"s":5,"x":2,"y":21.5},{"s":5,"x":3,"y":28},{"s":5,"x":4,"y":32.5},{"s":5,"x":5,"y":36},{"s":5,"x":6,"y":38.5},{"s":5,"x":7,"y":40},{"s":5,"x":8,"y":39.5},{"s":5,"x":9,"y":37},{"s":5,"x":10,"y":32.5},{"s":5,"x":11,"y":28.5},{"s":5,"x":12,"y":24.5},{"s":5,"x":13,"y":20.5},{"s":5,"x":14,"y":17.5},{"s":5,"x":15,"y":16},{"s":5,"x":16,"y":15},{"s":5,"x":17,"y":14.3},{"s":5,"x":18,"y":13.8},{"s":5,"x":19,"y":13.6},{"s":5,"x":20,"y":13.6},{"s":5,"x":21,"y":13.8},{"s":5,"x":22,"y":14.3},{"s":5,"x":23,"y":15.2},
{"s":6,"x":0,"y":8},{"s":6,"x":1,"y":11},{"s":6,"x":2,"y":17},{"s":6,"x":3,"y":22},{"s":6,"x":4,"y":26},{"s":6,"x":5,"y":29},{"s":6,"x":6,"y":31.5},{"s":6,"x":7,"y":32.8},{"s":6,"x":8,"y":33},{"s":6,"x":9,"y":32.2},{"s":6,"x":10,"y":30.2},{"s":6,"x":11,"y":27.5},{"s":6,"x":12,"y":24.5},{"s":6,"x":13,"y":22},{"s":6,"x":14,"y":20},{"s":6,"x":15,"y":18.6},{"s":6,"x":16,"y":17.8},{"s":6,"x":17,"y":17.3},{"s":6,"x":18,"y":17.1},{"s":6,"x":19,"y":17},{"s":6,"x":20,"y":17.1},{"s":6,"x":21,"y":17.4},{"s":6,"x":22,"y":17.9},{"s":6,"x":23,"y":18.6},
{"s":7,"x":0,"y":7},{"s":7,"x":1,"y":9.5},{"s":7,"x":2,"y":15},{"s":7,"x":3,"y":19.5},{"s":7,"x":4,"y":23},{"s":7,"x":5,"y":26},{"s":7,"x":6,"y":28.2},{"s":7,"x":7,"y":29.5},{"s":7,"x":8,"y":29.8},{"s":7,"x":9,"y":29.6},{"s":7,"x":10,"y":28.6},{"s":7,"x":11,"y":26.6},{"s":7,"x":12,"y":24},{"s":7,"x":13,"y":21.5},{"s":7,"x":14,"y":19.3},{"s":7,"x":15,"y":17.9},{"s":7,"x":16,"y":16.9},{"s":7,"x":17,"y":16.4},{"s":7,"x":18,"y":16.1},{"s":7,"x":19,"y":16},{"s":7,"x":20,"y":16.1},{"s":7,"x":21,"y":16.3},{"s":7,"x":22,"y":16.7},{"s":7,"x":23,"y":17.3},
{"s":8,"x":0,"y":6.5},{"s":8,"x":1,"y":9},{"s":8,"x":2,"y":15.5},{"s":8,"x":3,"y":21.5},{"s":8,"x":4,"y":26},{"s":8,"x":5,"y":29.5},{"s":8,"x":6,"y":32.5},{"s":8,"x":7,"y":34.5},{"s":8,"x":8,"y":34.5},{"s":8,"x":9,"y":33.2},{"s":8,"x":10,"y":30.5},{"s":8,"x":11,"y":27},{"s":8,"x":12,"y":23.5},{"s":8,"x":13,"y":19.5},{"s":8,"x":14,"y":16.5},{"s":8,"x":15,"y":14.5},{"s":8,"x":16,"y":13},{"s":8,"x":17,"y":12.2},{"s":8,"x":18,"y":11.7},{"s":8,"x":19,"y":11.5},{"s":8,"x":20,"y":11.6},{"s":8,"x":21,"y":12},{"s":8,"x":22,"y":12.8},{"s":8,"x":23,"y":14},
{"s":9,"x":0,"y":10},{"s":9,"x":1,"y":12},{"s":9,"x":2,"y":15.5},{"s":9,"x":3,"y":19},{"s":9,"x":4,"y":21.5},{"s":9,"x":5,"y":23.5},{"s":9,"x":6,"y":25.5},{"s":9,"x":7,"y":27},{"s":9,"x":8,"y":27.8},{"s":9,"x":9,"y":27.8},{"s":9,"x":10,"y":27.4},{"s":9,"x":11,"y":26.5},{"s":9,"x":12,"y":25},{"s":9,"x":13,"y":22.5},{"s":9,"x":14,"y":20.8},{"s":9,"x":15,"y":20},{"s":9,"x":16,"y":19.6},{"s":9,"x":17,"y":19.4},{"s":9,"x":18,"y":19.3},{"s":9,"x":19,"y":19.4},{"s":9,"x":20,"y":19.5},{"s":9,"x":21,"y":19.6},{"s":9,"x":22,"y":19.8},{"s":9,"x":23,"y":19.8},
{"s":10,"x":0,"y":7.5},{"s":10,"x":1,"y":10.5},{"s":10,"x":2,"y":16.5},{"s":10,"x":3,"y":22},{"s":10,"x":4,"y":26},{"s":10,"x":5,"y":29.5},{"s":10,"x":6,"y":32},{"s":10,"x":7,"y":33.5},{"s":10,"x":8,"y":33.6},{"s":10,"x":9,"y":32.8},{"s":10,"x":10,"y":30.5},{"s":10,"x":11,"y":27},{"s":10,"x":12,"y":24},{"s":10,"x":13,"y":21},{"s":10,"x":14,"y":18.5},{"s":10,"x":15,"y":16.8},{"s":10,"x":16,"y":15.7},{"s":10,"x":17,"y":15.1},{"s":10,"x":18,"y":14.7},{"s":10,"x":19,"y":14.5},{"s":10,"x":20,"y":14.6},{"s":10,"x":21,"y":14.8},{"s":10,"x":22,"y":15.3},{"s":10,"x":23,"y":16.2}
]},
"spacing":5,
"resolve":{"scale":{"x":"independent","y":"independent","color":"independent"}},
"vconcat":[
{"spacing":1,
"resolve":{"scale":{"x":"independent","y":"independent","color":"independent"}},
"hconcat":[
{"width":264,"height":217,"data":{"name":"a"},
"view":{"stroke":"#A6A6A6"},
"title":{"text":"(a)\u2002\u2009패널\u2002\u2009두께200","orient":"bottom","frame":"group","dx":19,"offset":14},
"mark":{"type":"line","strokeWidth":1.8},
"encoding":{
"x":{"field":"x","type":"quantitative","scale":{"domain":[0,39],"nice":false,"zero":false},"axis":{"labels":false,"ticks":false,"grid":false,"title":null}},
"y":{"field":"y","type":"quantitative","scale":{"domain":[0,25]},"axis":{"values":[0,5,10,15,20,25],"title":"온도 (°C)","gridColor":"#BFBFBF"}},
"color":{"field":"s","type":"nominal","scale":{"domain":[1,2,3,4,5,6,7,8,9,10],"range":["#3E70B5","#A83C3A","#8DB04F","#6A4F96","#45A3C2","#EE8A3C","#4C8FD6","#DA4B47","#A6CD55","#8667B4"]},"legend":null}}},
{"width":250,"height":216,"data":{"name":"b"},
"title":{"text":"(b)\u2002\u2009패널\u2002\u2009두께\u2002\u2009150mm","orient":"bottom","frame":"group","dx":19,"offset":15},
"mark":{"type":"line","strokeWidth":1.3},
"encoding":{
"x":{"field":"x","type":"quantitative","scale":{"domain":[0,49],"nice":false,"zero":false},"axis":{"labels":false,"ticks":false,"grid":false,"title":null}},
"y":{"field":"y","type":"quantitative","scale":{"domain":[0,30]},"axis":{"values":[0,5,10,15,20,25,30],"title":"온도 (°C)","gridColor":"#D9D9D9"}},
"color":{"field":"s","type":"nominal","scale":{"domain":[1,2,3,4,5,6,7,8,9,10],"range":["#3E70B5","#A83C3A","#8DB04F","#6A4F96","#45A3C2","#EE8A3C","#4C8FD6","#DA4B47","#A6CD55","#8667B4"]},"legend":null}}}
]},
{"spacing":0,
"resolve":{"scale":{"x":"independent","y":"independent","color":"independent"}},
"hconcat":[
{"width":3,"height":10,"data":{"values":[]},"mark":{"type":"point","opacity":0}},
{"width":275,"height":172,"data":{"name":"c"},
"view":{"stroke":"#595959"},
"title":{"text":"(c)\u2002\u2009유리(사례)","orient":"bottom","anchor":"end","frame":"group","dx":232,"dy":-44,"offset":0,"fontSize":19},
"mark":{"type":"line","strokeWidth":2},
"encoding":{
"x":{"field":"x","type":"quantitative","scale":{"domain":[0,23],"nice":false,"zero":false},"axis":{"labels":false,"ticks":false,"grid":false,"title":null,"domainColor":"#595959"}},
"y":{"field":"y","type":"quantitative","scale":{"domain":[0,45]},"axis":{"values":[0,5,10,15,20,25,30,35,40,45],"title":"온도 (°C)","gridColor":"#A6A6A6","domainColor":"#595959","labelPadding":8}},
"color":{"field":"s","type":"nominal","scale":{"domain":[1,2,3,4,5,6,7,8,9,10],"range":["#3E70B5","#A83C3A","#8DB04F","#6A4F96","#45A3C2","#EE8A3C","#4C8FD6","#DA4B47","#A6CD55","#8667B4"]},
"legend":{"title":null,"orient":"right","offset":6,"padding":5,"symbolType":"stroke","symbolSize":300,"symbolStrokeWidth":2.5,"labelFontSize":9.5,"labelFont":"Liberation Sans","labelColor":"#333333","labelOffset":2,"rowPadding":1.5,"labelExpr":"'TEMP ' + datum.label"}}}}
]}
]
}
